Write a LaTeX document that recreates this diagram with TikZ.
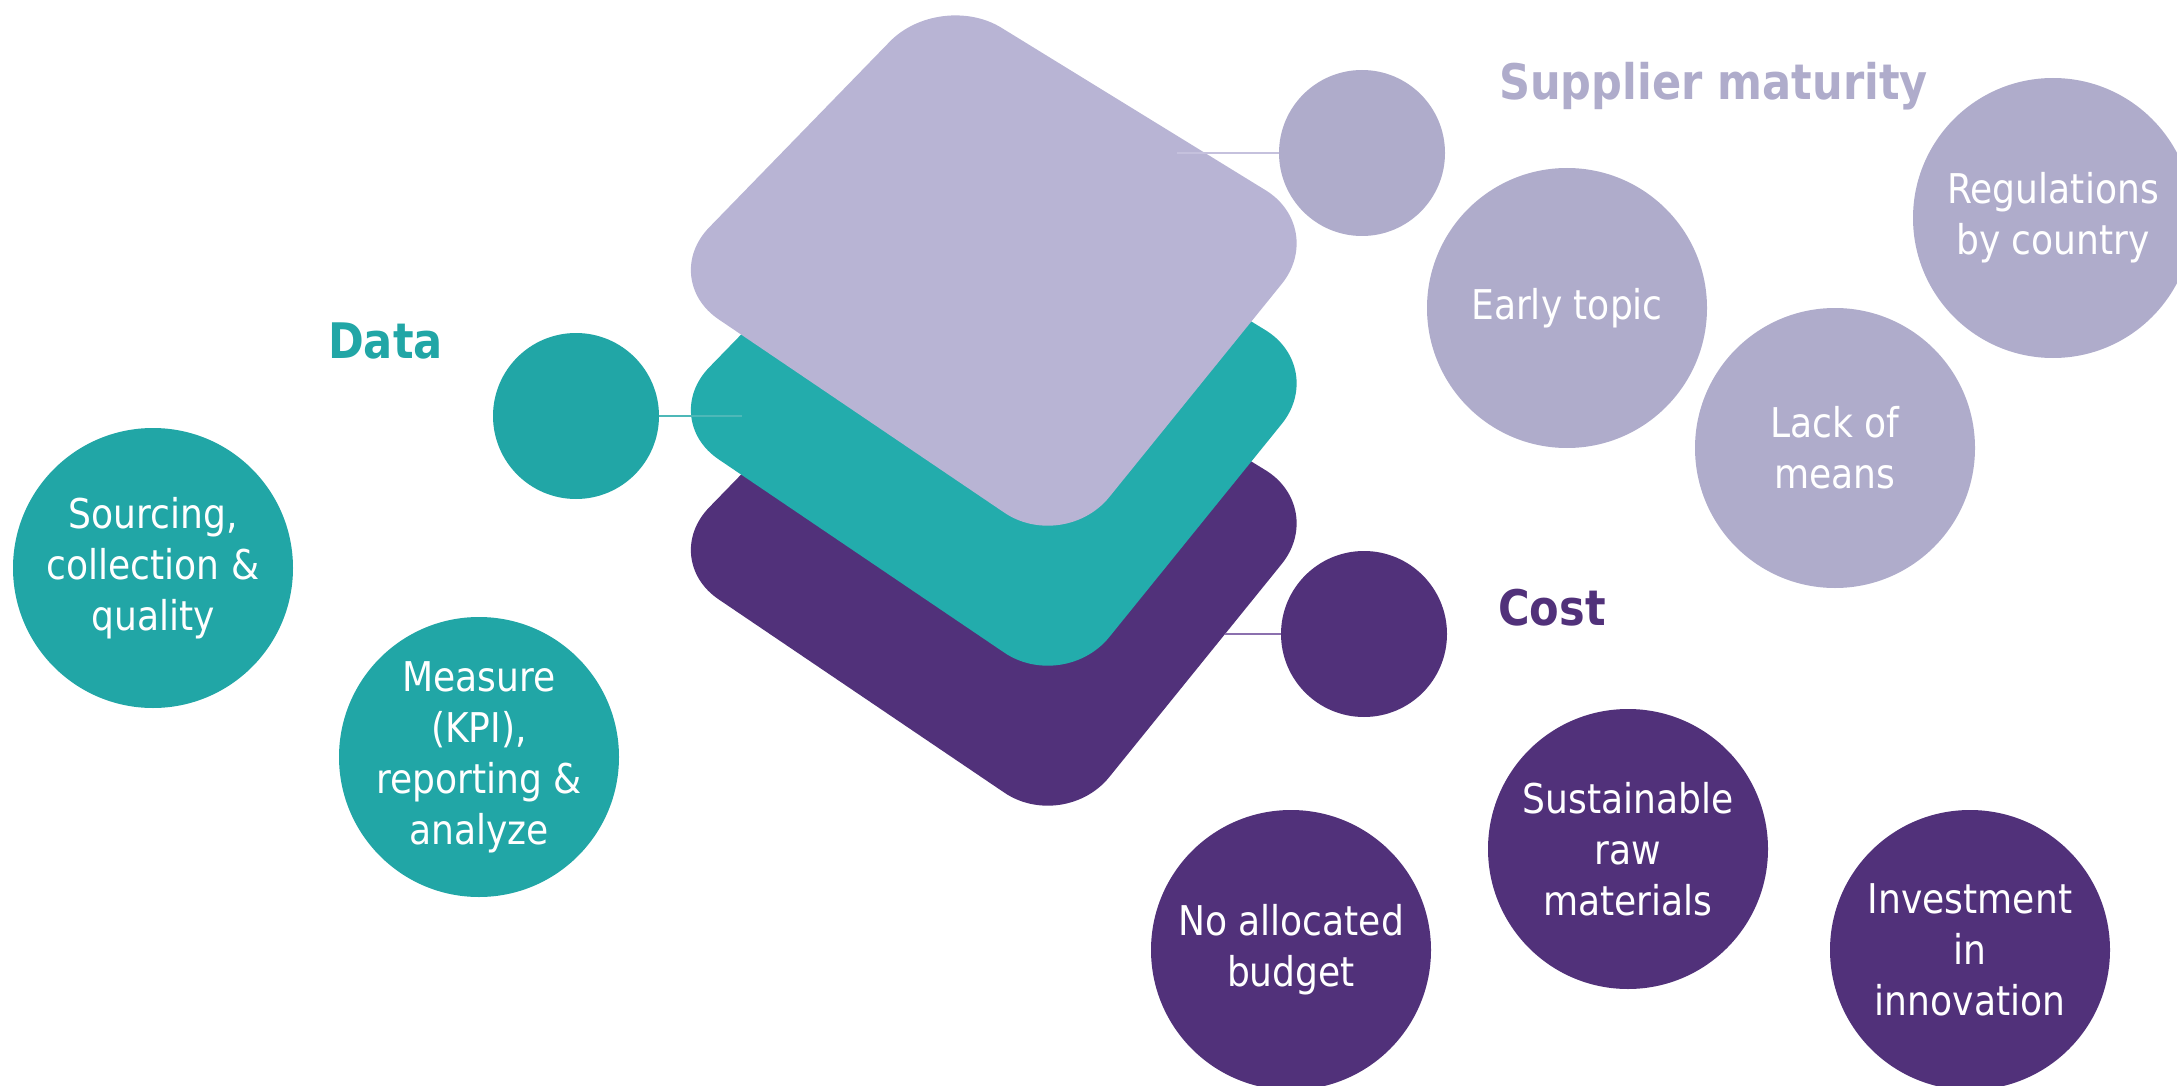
\documentclass[tikz,border=0pt]{standalone}
\usepackage{fontspec}
\newfontfamily\bubblefont{DejaVu Sans}[FakeStretch=0.88]
\newfontfamily\headfont{DejaVu Sans}[FakeStretch=0.88]
\definecolor{cTeal}{HTML}{21A6A6}
\definecolor{cTealLayer}{HTML}{23ACAC}
\definecolor{cTealLine}{HTML}{4DB8B8}
\definecolor{cPurple}{HTML}{51317A}
\definecolor{cPurpleLine}{HTML}{8B70AE}
\definecolor{cLav}{HTML}{AFACCB}
\definecolor{cLavLayer}{HTML}{B8B4D4}
\definecolor{cLavLine}{HTML}{C5C1DD}
\begin{document}
\begin{tikzpicture}[x=1pt,y=-1pt,
  bubble/.style={circle, minimum size=280pt, inner sep=0pt, text=white, align=center,
    font=\bubblefont\fontsize{41}{51}\selectfont},
  hub/.style={circle, minimum size=166pt, inner sep=0pt},
  head/.style={anchor=base west, inner sep=0pt, font=\headfont\bfseries\fontsize{49}{58}\selectfont},
  layer/.style={rounded corners=72pt},
  link/.style={line width=2pt}]
\useasboundingbox (0,0) rectangle (2177,1086);
\clip (0,0) rectangle (2177,1086);

% stacked layers, bottom to top
\fill[cPurple, layer] (940,270) -- (1327,508) -- (1064,833) -- (659,559) -- cycle;
\fill[cTealLayer, layer] (940,130) -- (1327,368) -- (1064,693) -- (659,419) -- cycle;
\fill[cLavLayer, layer] (940,-10) -- (1327,228) -- (1064,553) -- (659,279) -- cycle;

% hub circles
\node[hub, fill=cTeal] (dataHub) at (576,416) {};
\node[hub, fill=cLav] (supHub) at (1362,153) {};
\node[hub, fill=cPurple] (costHub) at (1364,634) {};

% connectors from the hubs into the layers
\coordinate (dataEnd) at (742,416);
\coordinate (supEnd) at (1177,153);
\coordinate (costEnd) at (1225,634);
\draw[link, cTealLine] (dataHub.east) -- (dataEnd);
\draw[link, cLavLine] (supHub.west) -- (supEnd);
\draw[link, cPurpleLine] (costHub.west) -- (costEnd);

% headings
\node[head, text=cTeal] (dataHead) at (328,358) {Data};
\node[head, text=cLav] (supHead) at (1499,100) {Supplier maturity};
\node[head, text=cPurple] (costHead) at (1498,625) {Cost};

% data bubbles
\node[bubble, fill=cTeal] (sourcing) at (153,568) {Sourcing,\\collection \&\\quality};
\node[bubble, fill=cTeal] (measure) at (479,757) {Measure\\(KPI),\\reporting \&\\analyze};

% supplier maturity bubbles
\node[bubble, fill=cLav] (early) at (1567,308) {Early topic};
\node[bubble, fill=cLav] (regs) at (2053,218) {Regulations\\by country};
\node[bubble, fill=cLav] (lack) at (1835,448) {Lack of\\means};

% cost bubbles
\node[bubble, fill=cPurple] (budget) at (1291,950) {No allocated\\budget};
\node[bubble, fill=cPurple] (raw) at (1628,849) {Sustainable\\raw\\materials};
\node[bubble, fill=cPurple] (invest) at (1970,950) {Investment\\in\\innovation};
\end{tikzpicture}
\end{document}
